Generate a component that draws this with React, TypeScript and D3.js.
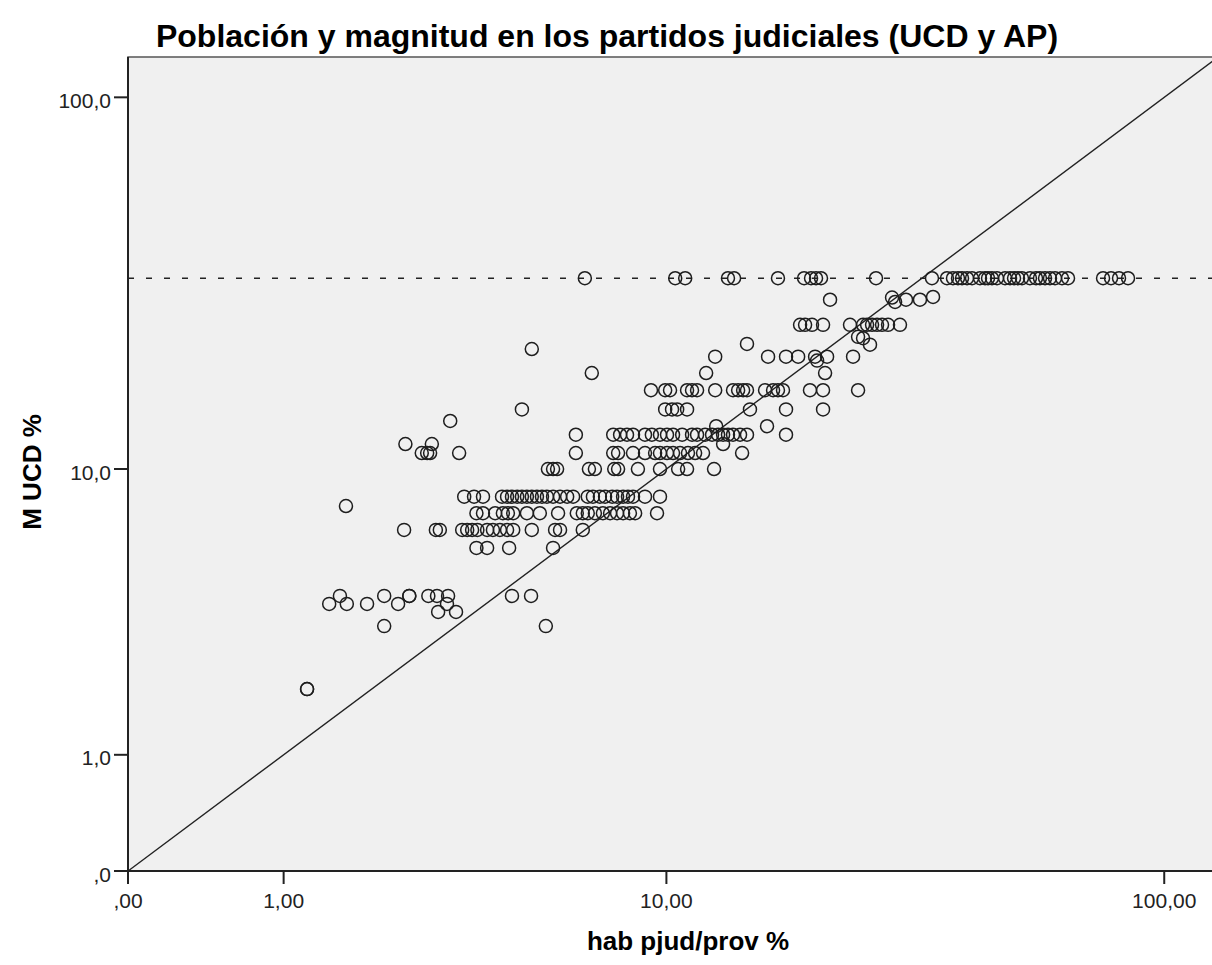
import React from "react";
import * as d3 from "d3";

const W = 1212;
const H = 965;

const titleText = "Población y magnitud en los partidos judiciales (UCD y AP)";
const xTitle = "hab pjud/prov %";
const yTitle = "M UCD %";

const xTicks = [0, 1, 10, 100];
const xTickLabels = [",00", "1,00", "10,00", "100,00"];
const yTicks = [0, 1, 10, 100];
const yTickLabels = [",0", "1,0", "10,0", "100,0"];
const refLevel = 33.33;

// x values (hab pjud/prov %) grouped by their M UCD % level
const x_33_3 = [6.65, 10.44, 10.96, 13.47, 13.87, 17.08, 19.31, 19.95, 20.42, 20.9, 26.98, 34.9, 37.38, 38.42, 39.31, 40.04, 40.97, 41.91, 43.46, 44.47, 45.08, 45.9, 46.96, 48.71, 49.82, 50.74, 51.66, 52.6, 54.54, 56.06, 57.07, 58.4, 59.72, 61.1, 63.06, 64.8, 75.91, 78.69, 81.58, 84.96];
const x_25 = [18.95, 19.4, 20.04, 21.1, 23.92, 25.41, 25.89, 26.49, 27.11, 27.74, 28.52, 30.13];
const x_20_5 = [12.67, 16.3, 17.74, 18.78, 20.33, 21.5, 24.26];
const x_18_5 = [6.89, 12.13, 21.3];
const x_16_6 = [9.27, 9.94, 10.18, 11.06, 11.33, 11.61, 12.67, 13.8, 14.14, 14.48, 14.75, 16.07, 16.69, 17.08, 17.49, 19.85, 21.1, 24.83];
const x_14_7 = [4.78, 9.94, 10.28, 10.54, 11.06, 14.96, 17.74, 21.1];
const x_13_2 = [12.73, 16.22];
const x_12_5 = [6.35, 7.68, 7.95, 8.23, 8.48, 9.0, 9.31, 9.69, 10.03, 10.33, 10.8, 11.33, 11.61, 12.07, 12.48, 12.85, 13.16, 13.47, 13.8, 14.27, 14.75, 17.74];
const x_11_8 = [2.44, 2.87, 13.16];
const x_11_1 = [2.7, 2.79, 2.84, 3.37, 6.35, 7.68, 7.87, 8.48, 9.0, 9.46, 9.69, 10.03, 10.33, 10.69, 11.11, 11.5, 11.95, 14.41];
const x_10 = [5.49, 5.64, 5.76, 6.79, 7.0, 7.72, 7.87, 8.69, 9.69, 10.59, 11.06, 12.6];
const x_8_33 = [3.47, 3.67, 3.86, 4.29, 4.41, 4.53, 4.66, 4.78, 4.91, 5.04, 5.18, 5.32, 5.46, 5.64, 5.85, 6.07, 6.26, 6.75, 6.93, 7.18, 7.37, 7.64, 7.83, 8.07, 8.27, 8.48, 9.0, 9.69];
const x_7_45 = [3.72, 3.86, 4.13, 4.31, 4.43, 4.56, 4.91, 5.26, 5.79, 6.38, 6.58, 6.75, 7.0, 7.29, 7.56, 7.83, 8.07, 8.35, 8.57, 9.55];
const x_6_65 = [2.42, 2.94, 3.01, 3.43, 3.53, 3.63, 3.74, 3.95, 4.08, 4.24, 4.41, 4.56, 5.04, 5.7, 5.85, 6.58];
const x_5_87 = [3.72, 3.95, 4.46, 5.64];
const x_4_16 = [1.57, 2.13, 2.5, 2.5, 2.81, 2.96, 3.16, 4.53, 5.02];
const x_3_92 = [1.45, 1.65, 1.9, 2.33, 3.14];
const x_3_69 = [2.98, 3.31];
const x_3_31 = [2.13, 5.43];

// individual points [hab pjud/prov %, M UCD %]
const extraPoints: [number, number][] = [
  [21.8, 29.2], [29.05, 29.6], [29.46, 28.8], [30.98, 29.2], [33.03, 29.2], [35.07, 29.7],
  [24.83, 23.2], [25.41, 23.0], [26.24, 22.1], [14.75, 22.2], [5.04, 21.5], [20.52, 20.0],
  [3.2, 13.65], [1.64, 7.82], [1.22, 1.96], [1.22, 1.96],
];

const levelGroups: [number, number[]][] = [
  [33.33, x_33_3], [25, x_25], [20.5, x_20_5], [18.5, x_18_5], [16.6, x_16_6], [14.7, x_14_7],
  [13.2, x_13_2], [12.5, x_12_5], [11.77, x_11_8], [11.1, x_11_1], [10, x_10], [8.33, x_8_33],
  [7.45, x_7_45], [6.65, x_6_65], [5.87, x_5_87], [4.16, x_4_16], [3.92, x_3_92], [3.69, x_3_69],
  [3.31, x_3_31],
];

const points: [number, number][] = [
  ...levelGroups.flatMap(([y, xs]) => xs.map((x) => [x, y] as [number, number])),
  ...extraPoints,
];

export default function App() {
  const left = 128;
  const bottom = 871;
  const top = 57;
  const right = W + 10;
  const kx = 517;
  const ky = 386;
  const x = d3.scaleSymlog().constant(1).domain([0, 100]).range([left, left + kx * Math.log10(101)]);
  const y = d3.scaleSymlog().constant(1).domain([0, 100]).range([bottom, bottom - ky * Math.log10(101)]);
  const font = "'Liberation Sans', Arial, sans-serif";
  const axisColor = "#222";
  const dMax = x.invert(right);

  return (
    <svg width={W} height={H} style={{ position: "absolute", left: 0, top: 0, display: "block", background: "#fff" }}>
      <defs>
        <clipPath id="plotClip">
          <rect x={left} y={top} width={right - left} height={bottom - top} />
        </clipPath>
      </defs>
      <rect x={left} y={top} width={right - left} height={bottom - top} fill="#f0f0f0" stroke="#555" strokeWidth={1.5} />
      <g clipPath="url(#plotClip)">
        <line x1={x(0)} y1={y(refLevel)} x2={right} y2={y(refLevel)} stroke="#222" strokeWidth={1.4} strokeDasharray="6,12" />
        <line x1={x(0)} y1={y(0)} x2={x(dMax)} y2={y(dMax)} stroke="#222" strokeWidth={1.4} />
        {points.map(([px, py], i) => (
          <circle key={i} cx={x(px)} cy={y(py)} r={6.5} fill="none" stroke="#1e1e1e" strokeWidth={1.5} />
        ))}
      </g>
      {/* axes */}
      <line x1={left} y1={bottom} x2={right} y2={bottom} stroke={axisColor} strokeWidth={2} />
      <line x1={left} y1={top} x2={left} y2={bottom} stroke={axisColor} strokeWidth={2} />
      {xTicks.map((t, i) => (
        <g key={"xt" + i}>
          <line x1={x(t)} y1={bottom} x2={x(t)} y2={bottom + 13} stroke={axisColor} strokeWidth={2} />
          <text x={x(t)} y={908} textAnchor="middle" fontFamily={font} fontSize={21} fill="#222">
            {xTickLabels[i]}
          </text>
        </g>
      ))}
      {yTicks.map((t, i) => (
        <g key={"yt" + i}>
          <line x1={left - 14} y1={y(t)} x2={left} y2={y(t)} stroke={axisColor} strokeWidth={2} />
          <text x={left - 17} y={y(t) + 10.5} textAnchor="end" fontFamily={font} fontSize={21} fill="#222">
            {yTickLabels[i]}
          </text>
        </g>
      ))}
      <text x={607} y={47} textAnchor="middle" fontFamily={font} fontSize={32} fontWeight="bold" fill="#000">
        {titleText}
      </text>
      <text x={688} y={950} textAnchor="middle" fontFamily={font} fontSize={26} fontWeight="bold" fill="#000">
        {xTitle}
      </text>
      <text transform={`translate(41,472) rotate(-90)`} textAnchor="middle" fontFamily={font} fontSize={26} fontWeight="bold" fill="#000">
        {yTitle}
      </text>
    </svg>
  );
}
